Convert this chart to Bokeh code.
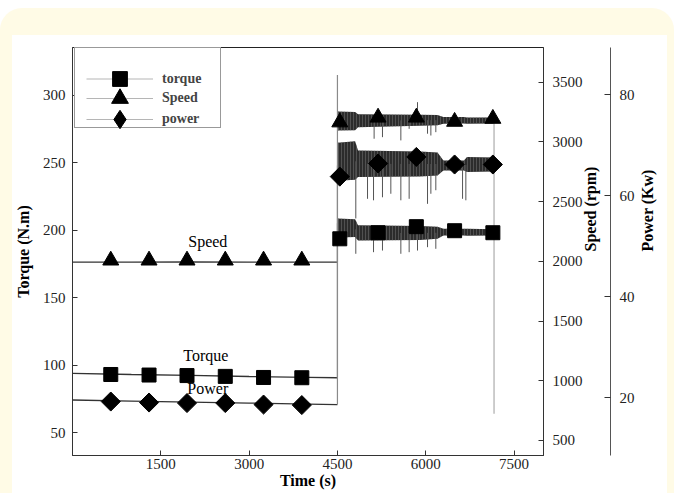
import numpy as np
from bokeh.plotting import figure
from bokeh.models import (Range1d, LinearAxis, FixedTicker, Legend, LegendItem, Label)
from bokeh.embed import file_html
from bokeh.resources import INLINE

# ---------------- data ----------------
x_ticks = [1500, 3000, 4500, 6000, 7500]
torque_ticks = [50, 100, 150, 200, 250, 300]
speed_ticks = [500, 1000, 1500, 2000, 2500, 3000, 3500]
power_ticks = [20, 40, 60, 80]

marker_time = [650, 1300, 1945, 2595, 3245, 3895, 4540, 5190, 5840, 6490, 7140]
torque_marker = [93.0, 92.6, 92.2, 91.6, 90.8, 90.6, 193.5, 198.0, 202.5, 199.5, 198.0]
speed_marker = [2008, 2008, 2008, 2008, 2008, 2008, 3165, 3205, 3205, 3170, 3195]
power_marker = [19.2, 19.0, 18.9, 18.9, 18.6, 18.5, 63.8, 66.4, 67.7, 66.2, 66.2]

idle_time = [0, 1000, 2000, 3000, 4000, 4500]
torque_idle = [93.8, 93.0, 92.3, 91.5, 90.9, 90.6]
speed_idle = [1994, 1994, 1995, 1994, 1994, 1994]
power_idle = [19.5, 19.3, 19.1, 18.9, 18.7, 18.6]

band_time = [4500, 4800, 4850, 5900, 6200, 6300, 6650, 6700, 7160]
torque_hi = [208.5, 208.0, 203.5, 203.0, 202.5, 201.0, 201.0, 201.0, 200.5]
torque_lo = [194.5, 194.8, 192.3, 192.6, 193.5, 196.0, 196.0, 195.8, 196.0]
speed_hi = [3255, 3250, 3232, 3228, 3226, 3208, 3208, 3204, 3204]
speed_lo = [3095, 3098, 3124, 3136, 3140, 3152, 3154, 3152, 3155]
power_hi = [70.5, 70.8, 69.0, 68.8, 68.6, 67.0, 67.0, 67.7, 67.6]
power_lo = [63.0, 63.2, 63.7, 63.8, 64.0, 65.0, 65.0, 64.7, 64.8]

torque_spike_time = [4812, 5113, 5265, 5577, 5718, 5860, 6030, 6171]
torque_spike = [182.4, 183.6, 184.8, 182.4, 183.6, 184.8, 187.3, 186.1]
speed_spike_time = [5123, 5265, 5577, 5718, 5860, 6030, 6087, 6171]
speed_spike = [3027, 3040, 3013, 3110, 3333, 3069, 3054, 3082]
power_spike_time = [4812, 5011, 5113, 5265, 5407, 5577, 5718, 6030, 6087, 6171, 6625, 6681]
power_spike = [55.5, 59.4, 59.1, 59.7, 60.4, 59.1, 59.4, 58.4, 60.4, 61.1, 59.4, 59.1]

start_time = 4500
end_time = 7160
torque_start_jump = [90.6, 205.0]
speed_start_jump = [1994, 3560]
power_start_jump = [18.6, 66.0]
torque_end_drop = [200.0, 64.0]
speed_end_drop = [3247, 2840]
power_end_drop = [67.5, 52.0]

inline_labels = ["Speed", "Torque", "Power"]
legend_labels = ["torque", "Speed", "power"]

# ---------------- styling ----------------
SERIF = "Liberation Serif"
YELLOW = "#fffbe6"
DARK = "#333333"

p = figure(width=674, height=485, output_backend="svg", toolbar_location=None,
           x_range=Range1d(0, 8000), y_range=Range1d(33.0, 335.2),
           min_border_left=72, min_border_right=131, min_border_top=39,
           min_border_bottom=38, background_fill_color="white",
           border_fill_alpha=0, outline_line_color="#222222",
           styles={"margin-top": "8px",
                   "border-radius": "22px 22px 0 0",
                   "background": "linear-gradient(#ffffff, #ffffff) 12px 27px / 655px 458px no-repeat, "
                                 + YELLOW})
p.extra_y_ranges = {"speed": Range1d(374, 3791), "power": Range1d(8.5, 89.4)}
p.xgrid.visible = False
p.ygrid.visible = False


def style_axis(ax, label, lab_standoff, title_standoff):
    ax.axis_label = label
    ax.axis_label_text_font = SERIF
    ax.axis_label_text_font_style = "bold"
    ax.axis_label_text_font_size = "16px"
    ax.axis_label_text_color = "black"
    ax.axis_label_standoff = title_standoff
    ax.major_label_text_font = SERIF
    ax.major_label_text_font_size = "15px"
    ax.major_label_text_color = "#222222"
    ax.major_label_standoff = lab_standoff
    ax.major_tick_in = 5
    ax.major_tick_out = 0
    ax.minor_tick_in = 0
    ax.minor_tick_out = 0
    ax.axis_line_color = DARK
    ax.major_tick_line_color = DARK


p.xaxis.ticker = FixedTicker(ticks=x_ticks)
p.yaxis.ticker = FixedTicker(ticks=torque_ticks)
style_axis(p.xaxis[0], "Time (s)", 3, 0)
style_axis(p.yaxis[0], "Torque (N.m)", 7, 8)

speed_axis = LinearAxis(y_range_name="speed", ticker=FixedTicker(ticks=speed_ticks))
style_axis(speed_axis, "Speed (rpm)", 9, 5)
speed_axis.axis_label_orientation = np.pi / 2
p.add_layout(speed_axis, "right")

power_axis = LinearAxis(y_range_name="power", ticker=FixedTicker(ticks=power_ticks))
style_axis(power_axis, "Power (Kw)", 9, 10)
power_axis.axis_label_orientation = np.pi / 2
power_axis.major_tick_in = 6
power_axis.axis_line_color = "#555555"
p.add_layout(power_axis, "right")

# ---------------- noisy running segment ----------------
band_kw = dict(fill_color="#2c2c2c", hatch_pattern="vertical_line", hatch_color="#707070",
               hatch_scale=3, hatch_weight=1, hatch_alpha=0.55)
p.varea(x=band_time, y1=torque_lo, y2=torque_hi, **band_kw)
p.varea(x=band_time, y1=speed_lo, y2=speed_hi, y_range_name="speed", **band_kw)
p.varea(x=band_time, y1=power_lo, y2=power_hi, y_range_name="power", **band_kw)

torque_mid = (np.array(torque_hi) + np.array(torque_lo)) / 2
speed_mid = (np.array(speed_hi) + np.array(speed_lo)) / 2
power_mid = (np.array(power_hi) + np.array(power_lo)) / 2

spike_kw = dict(line_color="#555555", line_width=1)
p.segment(x0=torque_spike_time, x1=torque_spike_time,
          y0=np.interp(torque_spike_time, band_time, torque_mid), y1=torque_spike, **spike_kw)
p.segment(x0=speed_spike_time, x1=speed_spike_time,
          y0=np.interp(speed_spike_time, band_time, speed_mid), y1=speed_spike,
          y_range_name="speed", **spike_kw)
p.segment(x0=power_spike_time, x1=power_spike_time,
          y0=np.interp(power_spike_time, band_time, power_mid), y1=power_spike,
          y_range_name="power", **spike_kw)

# ---------------- idle lines ----------------
p.line(idle_time, torque_idle, line_color=DARK, line_width=1.3)
p.line(idle_time, speed_idle, line_color=DARK, line_width=1.3, y_range_name="speed")
p.line(idle_time, power_idle, line_color=DARK, line_width=1.3, y_range_name="power")

# ---------------- transitions ----------------
jump_kw = dict(line_color="#8a8a8a", line_width=1.2)
drop_kw = dict(line_color="#bdbdbd", line_width=1.5)
p.segment(x0=[start_time], x1=[start_time], y0=[torque_start_jump[0]], y1=[torque_start_jump[1]], **jump_kw)
p.segment(x0=[start_time], x1=[start_time], y0=[speed_start_jump[0]], y1=[speed_start_jump[1]],
          y_range_name="speed", **jump_kw)
p.segment(x0=[start_time], x1=[start_time], y0=[power_start_jump[0]], y1=[power_start_jump[1]],
          y_range_name="power", **jump_kw)
p.segment(x0=[end_time], x1=[end_time], y0=[torque_end_drop[0]], y1=[torque_end_drop[1]], **drop_kw)
p.segment(x0=[end_time], x1=[end_time], y0=[speed_end_drop[0]], y1=[speed_end_drop[1]],
          y_range_name="speed", **drop_kw)
p.segment(x0=[end_time], x1=[end_time], y0=[power_end_drop[0]], y1=[power_end_drop[1]],
          y_range_name="power", **drop_kw)

# ---------------- markers ----------------
sq = p.scatter(marker_time, torque_marker, marker="square", size=14, color="black")
tri = p.scatter(marker_time, speed_marker, marker="triangle", size=16, color="black",
                y_range_name="speed")
dia = p.scatter(marker_time, power_marker, marker="square", size=13.5, angle=np.pi / 4,
                color="black", y_range_name="power")

# ---------------- inline labels ----------------
for txt, xx, yy, rng in [(inline_labels[0], 2298, 2167, "speed"),
                         (inline_labels[1], 2264, 107.0, "default"),
                         (inline_labels[2], 2298, 21.8, "power")]:
    p.add_layout(Label(x=xx, y=yy, y_range_name=rng, text=txt, text_align="center",
                       text_baseline="middle", text_font=SERIF, text_font_size="16px",
                       text_color="black"))

# ---------------- legend ----------------
leg_line = p.line(x=[np.nan], y=[np.nan], line_color="#b5b5b5", line_width=1)
blank_line = p.line(x=[np.nan], y=[np.nan], line_alpha=0)
leg_dia = p.scatter(x=[np.nan], y=[np.nan], marker="diamond", size=10, color="black")

# outer legend box
box = Legend(items=[LegendItem(label=" ", renderers=[blank_line])], location=(2, 327),
             padding=22, glyph_width=67, glyph_height=35, label_standoff=9, label_width=25,
             border_line_color="#333333", border_line_width=1,
             background_fill_color="white", background_fill_alpha=1)
p.add_layout(box)

for lab, rend, gh, loc in [(legend_labels[0], sq, 37, (14, 358)),
                           (legend_labels[1], tri, 42, (14, 336)),
                           (legend_labels[2], leg_dia, 46, (14, 313))]:
    p.add_layout(Legend(items=[LegendItem(label=lab, renderers=[leg_line, rend])],
                        location=loc, padding=0, margin=0, glyph_width=67, glyph_height=gh,
                        label_standoff=9, label_text_font=SERIF,
                        label_text_font_style="bold", label_text_font_size="14px",
                        border_line_alpha=0, background_fill_alpha=0))

open("out.html", "w").write(file_html(p, INLINE))
